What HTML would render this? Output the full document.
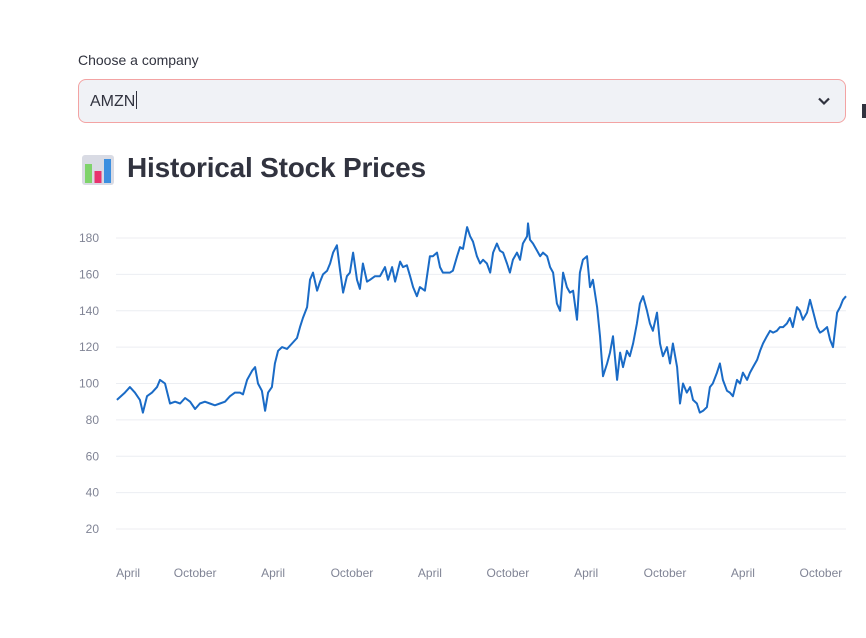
<!DOCTYPE html>
<html><head><meta charset="utf-8">
<style>
body{margin:0;width:866px;height:638px;background:#fff;overflow:hidden;font-family:"Liberation Sans",sans-serif;color:#31333f;position:relative}
.lbl{position:absolute;left:78px;top:52px;font-size:14px;color:#31333f}
.sel{position:absolute;left:78px;top:79px;width:766px;height:42px;background:#f0f2f6;border:1px solid #f3a3a3;border-radius:8px;box-sizing:content-box}
.sel .v{position:absolute;left:11px;top:11px;font-size:16px;color:#31333f}
.sel .caret{display:inline-block;width:1px;height:18px;background:#31333f;vertical-align:-3px;margin-left:1px}
.chev{position:absolute;right:14px;top:14px}
.title{position:absolute;left:127px;top:152px;font-size:28px;font-weight:bold;color:#31333f;letter-spacing:-0.2px}
.icon{position:absolute;left:82px;top:155px;width:32px;height:30px}
svg.chart{position:absolute;left:0;top:0}
.side{position:absolute;left:862px;width:4px;background:#31333f}
</style></head><body>
<div class="lbl">Choose a company</div>
<div class="sel">
  <span class="v">AMZN<span class="caret"></span></span>
  <svg class="chev" width="14" height="14" viewBox="0 0 14 14"><path d="M2 4.5 L7 9.5 L12 4.5" fill="none" stroke="#31333f" stroke-width="2.2"/></svg>
</div>
<svg class="icon" viewBox="0 0 32 30">
  <rect x="0" y="0" width="32" height="30" rx="3" fill="#d9dbe4"/>
  <rect x="3" y="9" width="7" height="19" fill="#7fd36b"/>
  <rect x="12.5" y="16" width="7" height="12" fill="#e8336e"/>
  <rect x="22" y="4" width="7" height="24" fill="#3c8fe0"/>
</svg>
<div class="title">Historical Stock Prices</div>
<div class="side" style="top:104px;height:14px"></div>
<svg class="chart" id="chart" width="866" height="638"></svg>
<script>
const weeks=[0.3,3.0,4.7,6.4,8.1,9.1,10.5,12.2,13.9,14.9,16.6,18.3,20.0,21.7,23.4,25.1,26.8,28.4,30.1,31.8,33.5,35.2,36.9,38.6,40.3,42.0,43.0,44.4,46.1,47.1,48.1,49.4,50.5,51.5,52.8,53.8,54.9,56.2,57.9,59.6,61.3,62.3,63.3,64.7,65.7,66.7,68.1,69.1,70.1,71.5,72.5,73.5,74.8,75.9,76.9,78.2,79.2,80.3,81.6,82.6,83.6,85.0,86.0,87.7,89.4,91.1,92.1,93.5,94.5,96.2,97.2,98.5,99.6,100.6,101.9,102.9,104.6,106.3,107.3,108.7,109.7,110.7,112.1,113.1,114.1,115.5,116.5,117.5,118.9,119.9,120.9,122.2,123.3,124.3,125.6,126.7,127.7,129.0,130.0,131.1,132.4,133.4,134.4,135.8,136.8,137.8,139.2,139.5,140.2,141.2,142.6,143.6,144.6,146.0,147.0,148.0,149.3,150.4,151.4,152.7,153.7,154.8,156.1,157.1,158.1,159.5,160.5,161.5,162.9,163.9,164.9,166.3,167.3,168.3,169.7,170.7,171.7,173.0,174.0,175.1,176.4,177.4,178.5,179.8,180.8,181.8,183.2,184.2,185.2,186.6,187.6,188.6,190.0,191.0,192.0,193.3,194.4,195.4,196.7,197.7,198.8,200.1,201.1,202.1,203.5,204.5,205.5,206.9,207.9,208.9,210.3,211.3,212.3,213.7,214.7,215.7,217.1,218.1,219.1,220.4,221.5,222.5,223.8,224.8,225.9,227.2,228.2,229.2,230.6,231.6,232.6,234.0,235.0,236.0,237.4,238.4,239.4,240.8,241.8,242.8,244.2,245.2,246.2,247.2];
const prices=[91,95,98,95,91,84,93,95,98,102,100,89,90,89,92,90,86,89,90,89,88,89,90,93,95,95,94,102,107,109,100,96,85,95,98,111,118,120,119,122,125,131,136,142,157,161,151,156,160,162,166,172,176,162,150,159,161,172,157,152,166,156,157,159,159,164,157,164,156,167,164,165,159,153,148,153,151,170,170,172,164,161,161,161,162,170,175,174,186,181,178,170,166,168,166,161,172,177,173,172,166,161,168,172,168,177,181,188,179,177,173,170,172,170,164,161,144,140,161,153,150,151,135,161,168,170,153,157,142,126,104,111,117,126,102,117,109,118,115,122,133,144,148,140,133,129,139,122,115,120,111,122,109,89,100,95,98,91,89,84,85,87,98,100,106,111,102,96,95,93,102,100,106,102,106,109,113,118,122,126,129,128,129,131,131,133,136,131,142,140,135,139,146,140,131,128,129,131,124,120,139,142,146,148];
const yTicks=[20,40,60,80,100,120,140,160,180];
const xTickWeeks=[4.1,26.8,53.2,79.9,106.3,132.7,159.2,185.9,212.3,238.7];
const xTickLabels=["April","October","April","October","April","October","April","October","April","October"];
const NS="http://www.w3.org/2000/svg";
const svg=document.getElementById('chart');
const X0=116,X1=846,W0=0,W1=247.2;
const xs=w=>X0+(w-W0)/(W1-W0)*(X1-X0);
const ys=v=>529-(v-20)*(291/160);
function mk(t,a){const e=document.createElementNS(NS,t);for(const k in a)e.setAttribute(k,a[k]);svg.appendChild(e);return e;}
yTicks.forEach(v=>{
  const g=mk('line',{x1:X0,x2:X1,y1:ys(v),y2:ys(v),stroke:'#eceef2','stroke-width':1});
  
  
  const t=mk('text',{x:99,y:ys(v)+4,'text-anchor':'end','font-size':12,fill:'#808495','font-family':'Liberation Sans, sans-serif'});
  t.textContent=v;
  
  
});
xTickWeeks.forEach((w,i)=>{
  const t=mk('text',{x:xs(w),y:577,'text-anchor':'middle','font-size':12,fill:'#808495','font-family':'Liberation Sans, sans-serif'});
  t.textContent=xTickLabels[i];
  
  
});
let d='';
weeks.forEach((w,i)=>{d+=(i?'L':'M')+xs(w).toFixed(1)+' '+ys(prices[i]).toFixed(1);});
const p=mk('path',{d:d,fill:'none',stroke:'#1a6bc6','stroke-width':2,'stroke-linejoin':'round'});


</script>
</body></html>
